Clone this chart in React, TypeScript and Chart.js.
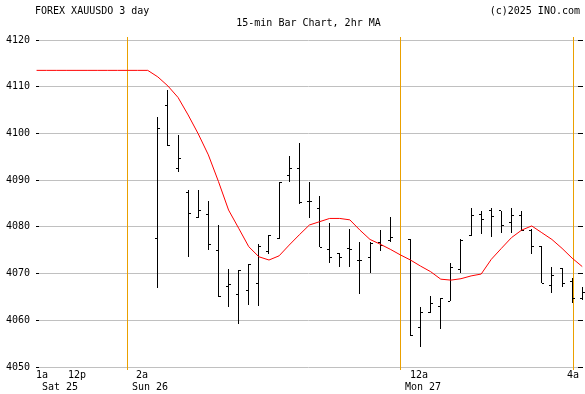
import React, { useEffect, useRef } from 'react';
import { Chart, registerables } from 'chart.js';

Chart.register(...registerables);

// ---- Data (15-minute bar slots) ----
const barSlots = [12, 13, 14, 15, 16, 17, 18, 19, 20, 21, 22, 23, 24, 25, 26, 27, 28, 29, 30, 31, 32, 33, 34, 35,
  37, 38, 39, 40, 41, 42, 43, 44, 45, 46, 47, 48, 49, 50, 51, 52, 53, 54];
const opens = [4077.55, 4105.9, 4092.5, 4087.4, 4082.0, 4082.7, 4075.0, 4067.2, 4065.6, 4066.3, 4067.8, 4074.8,
  4077.6, 4090.95, 4092.5, 4085.4, 4084.0, 4075.05, 4074.3, 4075.4, 4072.9, 4073.4, 4076.7, 4077.0,
  4077.3, 4058.4, 4061.7, 4063.0, 4064.1, 4070.9, 4078.05, 4082.7, 4083.4, 4083.4, 4081.0, 4082.5,
  4079.3, 4075.9, 4067.5, 4071.1, 4068.3, 4064.7];
const highs = [4103.45, 4109.3, 4099.66, 4087.9, 4087.9, 4085.5, 4080.4, 4071.0, 4070.7, 4072.05, 4076.3, 4078.3,
  4089.5, 4095.2, 4097.9, 4089.5, 4086.5, 4080.8, 4074.5, 4079.5, 4076.7, 4076.7, 4079.3, 4082.05,
  4077.3, 4062.8, 4065.2, 4064.8, 4072.3, 4077.3, 4084.0, 4083.3, 4084.0, 4083.4, 4084.0, 4083.5,
  4079.5, 4075.9, 4071.3, 4071.1, 4069.1, 4067.05];
const lows = [4066.98, 4097.4, 4091.8, 4073.6, 4082.0, 4075.0, 4064.9, 4062.9, 4059.1, 4063.3, 4063.1, 4074.1,
  4077.4, 4089.7, 4085.0, 4082.0, 4075.6, 4072.2, 4071.3, 4071.3, 4065.6, 4070.2, 4074.9, 4076.8,
  4056.7, 4054.35, 4061.5, 4058.1, 4064.1, 4070.05, 4078.05, 4078.4, 4077.9, 4078.75, 4078.75, 4079.2,
  4074.1, 4067.9, 4065.9, 4067.2, 4063.8, 4064.3];
const closes = [4101.1, 4097.5, 4094.7, 4082.9, 4083.6, 4076.3, 4065.05, 4067.6, 4070.7, 4072.0, 4075.9, 4078.1,
  4089.4, 4092.4, 4085.2, 4085.5, 4075.6, 4073.5, 4073.5, 4075.2, 4072.9, 4076.5, 4076.1, 4077.8,
  4056.8, 4061.7, 4063.5, 4064.7, 4071.3, 4077.0, 4082.5, 4081.6, 4082.2, 4080.2, 4082.5, 4079.2,
  4075.7, 4067.9, 4069.6, 4067.9, 4064.7, 4066.0];

// 2hr moving average
const maSlots = [0, 1, 2, 3, 4, 5, 6, 7, 8, 9, 10, 11, 12, 13, 14, 15, 16, 17, 18, 19, 20, 21, 22, 23, 24, 25, 26,
  27, 28, 29, 30, 31, 32, 33, 34, 35, 36, 37, 38, 39, 40, 41, 42, 43, 44, 45, 46, 47, 48, 49, 50, 51, 52, 53, 54];
const maValues = [4113.5, 4113.5, 4113.5, 4113.5, 4113.5, 4113.5, 4113.5, 4113.5, 4113.5, 4113.5, 4113.5, 4113.5,
  4112.1, 4110.15, 4107.7, 4103.95, 4099.9, 4095.4, 4089.7, 4083.6, 4079.7, 4075.75, 4073.6, 4072.9,
  4073.8, 4076.1, 4078.3, 4080.4, 4081.1, 4081.8, 4081.8, 4081.5, 4079.3, 4077.3, 4076.3, 4075.2,
  4074.0, 4072.9, 4071.6, 4070.4, 4068.8, 4068.6, 4068.9, 4069.5, 4069.9, 4073.05, 4075.4, 4077.7,
  4079.3, 4080.2, 4078.75, 4077.3, 4075.4, 4073.3, 4071.5];

// Axis labels
const yMin = 4050;
const yMax = 4120;
const yStep = 10;
const xMin = 0.24;
const xMax = 53.58;
const hourLabels = ['1a', '12p', '2a', '12a', '4a'];
const hourLabelPos = [-0.09, 3.07, 9.87, 36.98, 52.49];
const dayLabels = ['Sat 25', 'Sun 26', 'Mon 27'];
const dayLabelPos = [0.5, 9.48, 36.49];
const sessionLines = [9.04, 36.06, 53.15];

const titleLeft = 'FOREX XAUUSDO 3 day';
const titleRight = '(c)2025 INO.com';
const subtitle = '15-min Bar Chart, 2hr MA';

const FONT_FAMILY = '"DejaVu Sans Mono", monospace';
const FONT = '10px ' + FONT_FAMILY;
const GRID = '#c0c0c0';
const ORANGE = '#eaa000';

function makeTick(side: 'l' | 'r') {
  const c = document.createElement('canvas');
  c.width = 5;
  c.height = 1;
  const g = c.getContext('2d')!;
  g.fillStyle = '#000';
  g.fillRect(side === 'l' ? 0 : 3, 0, 2, 1);
  return c;
}

export default function App() {
  const ref = useRef<HTMLCanvasElement | null>(null);

  useEffect(() => {
    document.body.style.margin = '0';
    const canvas = ref.current!;
    const openImg = makeTick('l');
    const closeImg = makeTick('r');

    const overlay = {
      id: 'overlay',
      beforeDatasetsDraw(chart: any) {
        const { ctx, chartArea } = chart;
        const xs = chart.scales.x;
        // snap OHLC elements to whole pixels for crisp 1px bars
        chart.data.datasets.forEach((ds: any, di: number) => {
          if (!ds.snap) return;
          const meta = chart.getDatasetMeta(di);
          meta.data.forEach((el: any) => {
            el.x = Math.floor(el.x) + 0.5;
            if (ds.type === 'bar') {
              el.y = Math.round(el.y);
              el.base = Math.round(el.base);
            } else {
              el.y = Math.floor(el.y) + 0.5;
            }
          });
        });
        ctx.save();
        ctx.fillStyle = ORANGE;
        sessionLines.forEach((v) => {
          const px = Math.floor(xs.getPixelForValue(v));
          ctx.fillRect(px, chartArea.top - 3, 1, chartArea.bottom - chartArea.top + 6);
        });
        ctx.restore();
      },
      afterDraw(chart: any) {
        const { ctx, chartArea } = chart;
        const xs = chart.scales.x;
        ctx.save();
        ctx.font = FONT;
        ctx.fillStyle = '#000';
        ctx.textBaseline = 'alphabetic';
        ctx.textAlign = 'left';
        ctx.fillText(titleLeft, 35, 14);
        ctx.textAlign = 'right';
        ctx.fillText(titleRight, 580, 14);
        ctx.textAlign = 'center';
        ctx.fillText(subtitle, (chartArea.left + chartArea.right) / 2, 26);
        ctx.textAlign = 'left';
        hourLabels.forEach((t, i) => {
          ctx.fillText(t, Math.round(xs.getPixelForValue(hourLabelPos[i])), chartArea.bottom + 11);
        });
        dayLabels.forEach((t, i) => {
          ctx.fillText(t, Math.round(xs.getPixelForValue(dayLabelPos[i])), chartArea.bottom + 23);
        });
        ctx.restore();
      },
    };

    const chart = new Chart(canvas, {
      type: 'bar',
      data: {
        datasets: [
          {
            type: 'line',
            data: maSlots.map((s, i) => ({ x: s, y: maValues[i] })),
            borderColor: '#ff0000',
            borderWidth: 1,
            pointRadius: 0,
            tension: 0,
            clip: false,
            xAxisID: 'x',
            yAxisID: 'y',
          } as any,
          {
            type: 'bar',
            snap: true,
            data: barSlots.map((s, i) => ({ x: s, y: [lows[i], highs[i]] })),
            backgroundColor: '#000',
            borderWidth: 0,
            barThickness: 1,
            inflateAmount: 0,
            clip: false,
            xAxisID: 'x',
            yAxisID: 'y',
          } as any,
          {
            type: 'line',
            snap: true,
            showLine: false,
            data: barSlots.map((s, i) => ({ x: s, y: opens[i] })),
            pointStyle: openImg,
            pointRadius: 6,
            clip: false,
            xAxisID: 'x',
            yAxisID: 'y',
          } as any,
          {
            type: 'line',
            snap: true,
            showLine: false,
            data: barSlots.map((s, i) => ({ x: s, y: closes[i] })),
            pointStyle: closeImg,
            pointRadius: 6,
            clip: false,
            xAxisID: 'x',
            yAxisID: 'y',
          } as any,
        ],
      },
      options: {
        responsive: false,
        animation: false,
        events: [],
        layout: { padding: { top: 40, bottom: 27, left: 0, right: 0 } },
        plugins: {
          legend: { display: false },
          tooltip: { enabled: false },
        },
        scales: {
          x: {
            type: 'linear',
            display: false,
            min: xMin,
            max: xMax,
            offset: false,
            grid: { display: false, offset: false },
          },
          y: {
            type: 'linear',
            position: 'left',
            min: yMin,
            max: yMax,
            border: { display: false },
            grid: { color: GRID, lineWidth: 1, tickColor: '#000', tickLength: 3 },
            ticks: {
              stepSize: yStep,
              padding: 6,
              color: '#000',
              font: { family: FONT_FAMILY, size: 10 },
              callback: (v: any) => String(v),
            },
            afterFit: (s: any) => { s.width = 39; },
          },
          y2: {
            type: 'linear',
            position: 'right',
            min: yMin,
            max: yMax,
            border: { display: false },
            grid: { drawOnChartArea: false, tickColor: '#000', tickLength: 5 },
            ticks: { display: false, stepSize: yStep },
            afterFit: (s: any) => { s.width = 5; },
          },
        },
      } as any,
      plugins: [overlay],
    });

    return () => chart.destroy();
  }, []);

  return (
    <div style={{ position: 'absolute', left: 0, top: 0, width: 585, height: 394 }}>
      <canvas ref={ref} width={585} height={394} style={{ display: 'block' }} />
    </div>
  );
}
